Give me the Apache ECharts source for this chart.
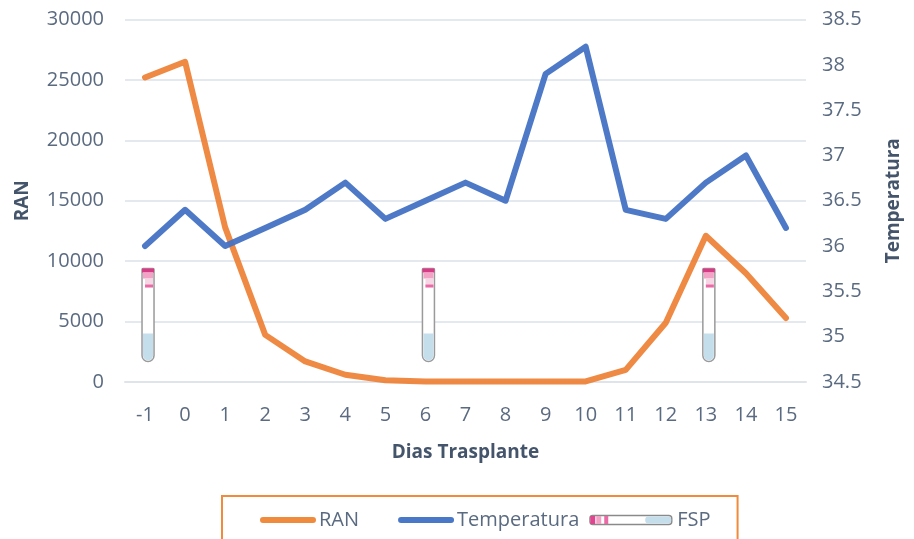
<!DOCTYPE html>
<html><head><meta charset="utf-8">
<style>html,body{margin:0;padding:0;background:#fff}#c{width:914px;height:539px}</style>
<script src="https://cdn.jsdelivr.net/npm/echarts@6/dist/echarts.min.js"></script>
</head><body><div id="c"></div>
<script>
const days = ['-1','0','1','2','3','4','5','6','7','8','9','10','11','12','13','14','15'];
const ran = [25200,26500,12800,3900,1700,600,150,50,50,50,50,50,1000,4900,12100,9000,5300];
const temperatura = [36,36.4,36,36.2,36.4,36.7,36.3,36.5,36.7,36.5,37.9,38.2,36.4,36.3,36.7,37,36.2];
const fspDays = ['-1','6','13'];
const fspLevel = [5500,5500,5500];

const tick = '#5a6a80', title = '#44546A', font = '"Open Sans", sans-serif';
const iconSvg = "<svg xmlns='http://www.w3.org/2000/svg' width='85' height='14'>"
 + "<rect x='0.5' y='2.5' width='82' height='9' rx='3' fill='#fff' stroke='#8a8a8a' stroke-width='1.5'/>"
 + "<rect x='56' y='3.5' width='26' height='7' rx='3' fill='#c5deec'/>"
 + "<rect x='1' y='3' width='5' height='8' fill='#e0468f'/>"
 + "<rect x='7' y='3' width='5' height='8' fill='#f3a3c6'/><rect x='15' y='3' width='4' height='8' fill='#ea6aa6'/></svg>";
// legend line key: a 56x6 rounded bar at the right of an 85x14 box (zero-area corners hold the box size)
const lineIcon = 'path://M0 0L0 0ZM85 14L85 14ZM32 4H82A3 3 0 0 1 82 10H32A3 3 0 0 1 32 4Z';

function renderTube(params, api) {
  const p = api.coord([api.value(0), api.value(1)]);
  const c = p[0] + 3, m = p[1];
  const y = v => m + v, x = v => c + v;
  return { type: 'group', children: [
    { type:'rect', shape:{x:x(-6),y:y(-47),width:12,height:93,r:[1,1,6,6]}, style:{fill:'#fff',stroke:'#9a9a9a',lineWidth:1.5} },
    { type:'rect', shape:{x:x(-5),y:y(18),width:10,height:27,r:[0,0,5,5]}, style:{fill:'#c5deec'} },
    { type:'rect', shape:{x:x(-6),y:y(-47),width:12,height:4}, style:{fill:'#d93a86'} },
    { type:'rect', shape:{x:x(-5),y:y(-43),width:10,height:6}, style:{fill:'#f3a3c6'} },
    { type:'rect', shape:{x:x(-3),y:y(-37),width:8,height:7}, style:{fill:'#f6d5e4'} },
    { type:'rect', shape:{x:x(-3),y:y(-31),width:8,height:3}, style:{fill:'#ea6aa6'} }
  ]};
}

const chart = echarts.init(document.getElementById('c'), null, {renderer:'canvas'});
chart.setOption({
  animation:false,
  textStyle:{fontFamily:font},
  grid:{left:125,right:108,top:19.5,bottom:157},
  legend:{
    left:222, top:496, orient:'horizontal',
    padding:[14,27,40,9], itemGap:10, itemWidth:85, itemHeight:14,
    borderColor:'#F08A3C', borderWidth:2, borderRadius:0,
    textStyle:{color:tick,fontSize:20,fontFamily:font,padding:[0,0,0,-2]},
    data:[{name:'RAN',icon:lineIcon},{name:'Temperatura',icon:lineIcon},
          {name:'FSP',icon:'image://data:image/svg+xml;utf8,'+encodeURIComponent(iconSvg)}]
  },
  xAxis:{type:'category',data:days,boundaryGap:true,
    name:'Dias Trasplante',nameLocation:'middle',nameGap:61,
    nameTextStyle:{color:title,fontSize:19,fontWeight:'bold',fontFamily:font},
    axisLine:{lineStyle:{color:'#dfe3ea',width:2}},axisTick:{show:false},
    axisLabel:{color:tick,fontSize:20,margin:23,interval:0,fontFamily:font}},
  yAxis:[
    {type:'value',min:0,max:30000,interval:5000,
     name:'RAN',nameLocation:'middle',nameGap:93,nameRotate:90,
     nameTextStyle:{color:title,fontSize:19,fontWeight:'bold',fontFamily:font},
     splitLine:{lineStyle:{color:'#e4e9f0',width:2}},
     axisLine:{show:false},axisTick:{show:false},
     axisLabel:{color:tick,fontSize:20,margin:21,fontFamily:font,formatter:v=>String(v)}},
    {type:'value',min:34.5,max:38.5,interval:0.5,
     name:'Temperatura',nameLocation:'middle',nameGap:78,nameRotate:90,
     nameTextStyle:{color:title,fontSize:19,fontWeight:'bold',fontFamily:font},
     splitLine:{show:false},axisLine:{show:false},axisTick:{show:false},
     axisLabel:{color:tick,fontSize:20,margin:16,fontFamily:font}}
  ],
  series:[
    {name:'FSP',type:'custom',yAxisIndex:0,z:1,
     data:fspDays.map((d,i)=>[d,fspLevel[i]]),
     encode:{x:0,y:1},renderItem:renderTube},
    {name:'RAN',type:'line',yAxisIndex:0,z:3,data:ran,symbol:'none',
     lineStyle:{color:'#ED7D31',width:6,cap:'round',join:'round',opacity:.9},itemStyle:{color:'#F08A3C'}},
    {name:'Temperatura',type:'line',yAxisIndex:1,z:3,data:temperatura,symbol:'none',
     lineStyle:{color:'#4472C4',width:6,cap:'round',join:'round',opacity:.95},itemStyle:{color:'#4A78C8'}}
  ]
});
</script></body></html>
